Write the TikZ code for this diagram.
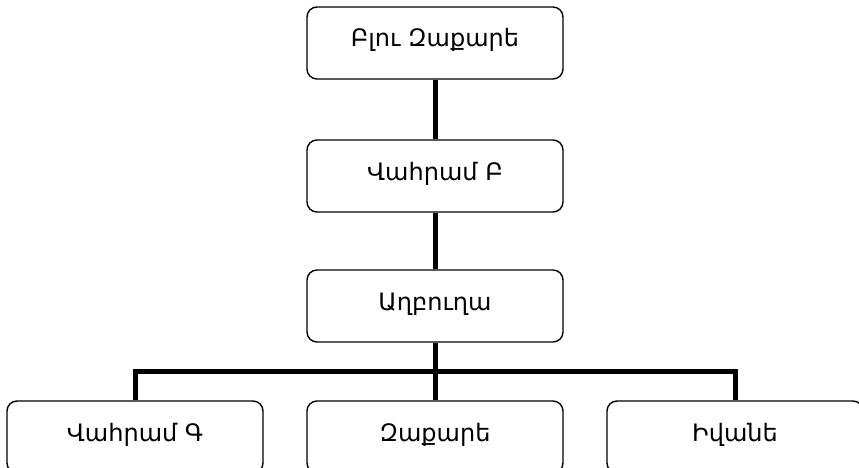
\documentclass[tikz,border=0pt]{standalone}
\usepackage{fontspec}
\setmainfont{DejaVu Sans}
\begin{document}
\begin{tikzpicture}[x=1pt,y=-1pt,
  person/.style={draw, line width=1.4pt, rounded corners=10pt, minimum width=256pt, minimum height=72pt, inner sep=0pt, text height=18pt, text depth=10pt, font=\fontsize{24}{27}\selectfont},
  link/.style={line width=5pt}]
\useasboundingbox (0,0) rectangle (859,468);
\node[person] (a) at (435,43) {Բլու Զաքարե};
\node[person] (b) at (435,176) {Վահրամ Բ};
\node[person] (c) at (435,306) {Աղբուղա};
\node[person] (d) at (135,437) {Վահրամ Գ};
\node[person] (e) at (435,437) {Զաքարե};
\node[person] (f) at (735,437) {Իվանե};
\coordinate (j) at (435,371);
\draw[link] (a) -- (b);
\draw[link] (b) -- (c);
\draw[link] (c) -- (e);
\draw[link] (d.north) |- (j) -| (f.north);
\end{tikzpicture}
\end{document}
